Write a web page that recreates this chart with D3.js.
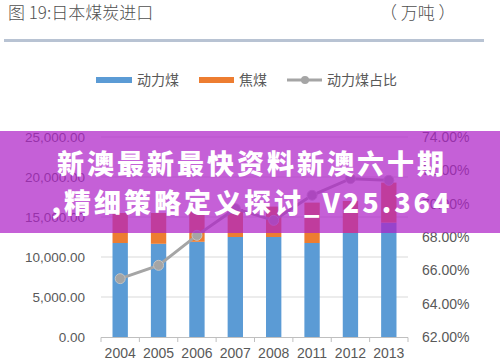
<!DOCTYPE html>
<html>
<head>
<meta charset="utf-8">
<script src="https://cdn.jsdelivr.net/npm/d3@7"></script>
<style>
  body { margin: 0; background: #fff; }
  svg { display: block; }
  text { font-family: "Liberation Sans", Arial, sans-serif; }
  .cjk { font-family: "Noto Sans CJK SC", sans-serif; }
</style>
</head>
<body>
<div id="chart"></div>
<script>
// data (万吨 / %)
const years = ["2004", "2005", "2006", "2007", "2008", "2011", "2012", "2013"];
const steamCoal = [11750, 11650, 11900, 12500, 12500, 11750, 13000, 14300];
const cokingCoal = [3750, 3850, 3800, 3500, 3800, 5050, 4000, 5000];
const steamShare = [65.5, 66.3, 68.1, 69.7, 69.0, 70.5, 71.5, 71.4];
const leftTicks = [0, 5000, 10000, 15000, 20000, 25000];
const rightTicks = [62, 64, 66, 68, 70, 72, 74];

const W = 500, H = 364;
const svg = d3.select("#chart").append("svg")
  .attr("width", W)
  .attr("height", H);

// title + unit
svg.append("text").attr("class", "cjk")
  .attr("x", 8).attr("y", 19)
  .attr("fill", "#505050").style("font-size", "17px").style("font-weight", 300)
  .text("图 19:日本煤炭进口");
svg.append("text").attr("class", "cjk")
  .attr("x", 380).attr("y", 19)
  .attr("fill", "#505050").style("font-size", "17px").style("font-weight", 300)
  .text("（ 万吨 ）");
svg.append("rect")
  .attr("x", 4).attr("y", 39).attr("width", 480).attr("height", 3)
  .attr("fill", "#b8c3d3");

// legend
const legend = svg.append("g").attr("class", "legend");
legend.append("rect").attr("x", 96).attr("y", 77).attr("width", 36).attr("height", 6).attr("fill", "#5b9bd5");
legend.append("text").attr("class", "cjk").attr("x", 137).attr("y", 85).attr("fill", "#595959").style("font-size", "14px").text("动力煤");
legend.append("rect").attr("x", 199).attr("y", 77).attr("width", 35).attr("height", 6).attr("fill", "#ed7d31");
legend.append("text").attr("class", "cjk").attr("x", 239).attr("y", 85).attr("fill", "#595959").style("font-size", "14px").text("焦煤");
legend.append("line").attr("x1", 287).attr("x2", 322).attr("y1", 80).attr("y2", 80).attr("stroke", "#a5a5a5").attr("stroke-width", 3);
legend.append("circle").attr("cx", 305).attr("cy", 80).attr("r", 4).attr("fill", "#a5a5a5");
legend.append("text").attr("class", "cjk").attr("x", 327).attr("y", 85).attr("fill", "#595959").style("font-size", "14px").text("动力煤占比");

// scales
const x = d3.scaleBand()
  .domain(years)
  .range([101, 408])
  .paddingInner(0.6)
  .paddingOuter(0.3);

const y = d3.scaleLinear().domain([0, 25000]).range([337, 137]);
const y2 = d3.scaleLinear().domain([62, 74]).range([337, 137]);

// gridlines
svg.append("g").selectAll("line")
  .data(leftTicks.slice(1))
  .enter().append("line")
    .attr("x1", 101).attr("x2", 408)
    .attr("y1", d => y(d)).attr("y2", d => y(d))
    .attr("stroke", "#d9d9d9").attr("stroke-width", 1);

// left axis labels
svg.append("g").selectAll("text")
  .data(leftTicks)
  .enter().append("text")
    .attr("x", 85).attr("y", d => y(d) + 5)
    .attr("text-anchor", "end")
    .attr("fill", "#595959").style("font-size", "13.5px")
    .text(d => d3.format(",.2f")(d));

// right axis labels
svg.append("g").selectAll("text")
  .data(rightTicks)
  .enter().append("text")
    .attr("x", 422).attr("y", d => y2(d) + 5)
    .attr("fill", "#595959").style("font-size", "14px")
    .text(d => d3.format(".2f")(d) + "%");

// stacked bars
const rows = years.map((yr, i) => ({ year: yr, steam: steamCoal[i], coking: cokingCoal[i] }));
const stacked = d3.stack().keys(["steam", "coking"])(rows);
const color = { steam: "#5b9bd5", coking: "#ed7d31" };

svg.append("g").selectAll("g")
  .data(stacked)
  .enter().append("g")
    .attr("fill", d => color[d.key])
  .selectAll("rect")
  .data(d => d)
  .enter().append("rect")
    .attr("x", d => x(d.data.year))
    .attr("width", x.bandwidth())
    .attr("y", d => y(d[1]))
    .attr("height", d => y(d[0]) - y(d[1]));

// x axis baseline + ticks at category boundaries
svg.append("line")
  .attr("x1", 101).attr("x2", 408).attr("y1", 337.5).attr("y2", 337.5)
  .attr("stroke", "#bfbfbf");
svg.append("g").selectAll("line")
  .data(d3.range(years.length + 1))
  .enter().append("line")
    .attr("x1", i => 101 + i * x.step()).attr("x2", i => 101 + i * x.step())
    .attr("y1", 337.5).attr("y2", 342)
    .attr("stroke", "#bfbfbf");

svg.append("g").selectAll("text")
  .data(years)
  .enter().append("text")
    .attr("x", d => x(d) + x.bandwidth() / 2)
    .attr("y", 358)
    .attr("text-anchor", "middle")
    .attr("fill", "#595959").style("font-size", "14px")
    .text(d => d);

// share line
const line = d3.line()
  .x((d, i) => x(years[i]) + x.bandwidth() / 2)
  .y(d => y2(d));

svg.append("path")
  .datum(steamShare)
  .attr("d", line)
  .attr("fill", "none")
  .attr("stroke", "#a5a5a5")
  .attr("stroke-width", 3);

svg.append("g").selectAll("circle")
  .data(steamShare)
  .enter().append("circle")
    .attr("cx", (d, i) => x(years[i]) + x.bandwidth() / 2)
    .attr("cy", d => y2(d))
    .attr("r", 5)
    .attr("fill", "#a5a5a5")
    .attr("stroke", "#c4c4c4")
    .attr("stroke-width", 1);

// purple banner over the chart
svg.append("rect")
  .attr("x", 0).attr("y", 131).attr("width", W).attr("height", 102)
  .attr("fill", "rgb(175,35,200)").attr("fill-opacity", 0.72);

const banner = ["新澳最新最快资料新澳六十期", ",精细策略定义探讨_V25.364"];
svg.append("g").selectAll("text")
  .data(banner)
  .enter().append("text")
    .attr("class", "cjk")
    .attr("x", 252).attr("y", (d, i) => 174 + i * 39)
    .attr("text-anchor", "middle")
    .attr("fill", "#fff")
    .style("font-size", "27px")
    .style("font-weight", 900)
    .style("letter-spacing", "3px")
    .text(d => d);
</script>
</body>
</html>
